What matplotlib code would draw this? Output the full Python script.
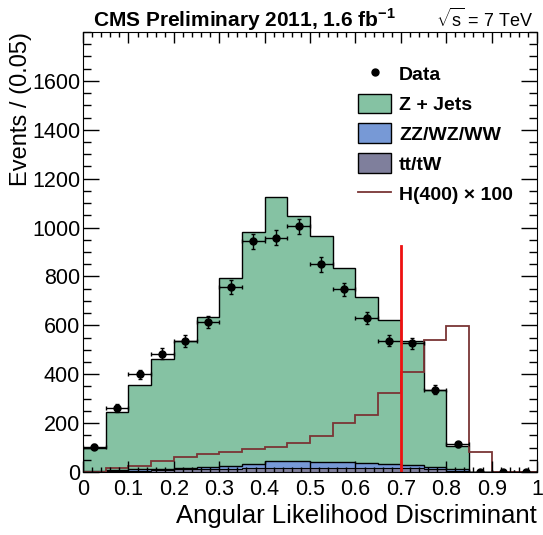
import numpy as np
import matplotlib
matplotlib.use('Agg')
import matplotlib.pyplot as plt
from matplotlib.patches import Patch
from matplotlib.lines import Line2D
from matplotlib.ticker import MultipleLocator

plt.rcParams['font.family'] = ['Liberation Sans', 'DejaVu Sans']
plt.rcParams['mathtext.fontset'] = 'custom'
plt.rcParams['mathtext.rm'] = 'Liberation Sans'
plt.rcParams['mathtext.bf'] = 'Liberation Sans:bold'

edges = np.linspace(0, 1, 21)
centers = 0.5 * (edges[:-1] + edges[1:])

# stacked MC, per-process contributions in each bin
tt_tw = [1, 3, 4, 8, 11, 14, 14, 16, 18, 18, 18, 18, 17, 16, 16, 11, 5, 0, 0, 0]
dibos = [3, 5, 7, 6, 7, 8, 10, 18, 27, 27, 24, 21, 21, 18, 14, 9, 6, 0, 0, 0]
total = [97, 246, 355, 461, 536, 633, 795, 982, 1125, 1049, 967, 834, 714, 620, 536, 336, 107, 0, 0, 0]
data = [103, 260, 399, 484, 536, 615, 756, 943, 958, 1005, 849, 747, 631, 537, 527, 336, 114, 0, 0, 0]
higgs = [1, 15, 24, 46, 61, 73, 82, 94, 102, 117, 147, 200, 234, 322, 409, 539, 597, 83, 0, 0]

c_zj = '#85c2a3'
c_vv = '#7799d6'
c_tt = '#7f7f9c'
c_h = '#7a3535'

fig = plt.figure(figsize=(5.43, 5.35), dpi=100)
ax = fig.add_axes([0.1529, 0.1178, 0.8361, 0.8224])

tt = np.array(tt_tw, float)
vv = tt + np.array(dibos, float)
tot = np.array(total, float)

ax.stairs(tot, edges, baseline=vv, fill=True, facecolor=c_zj, edgecolor='none')
ax.stairs(vv, edges, baseline=tt, fill=True, facecolor=c_vv, edgecolor='none')
ax.stairs(tt, edges, baseline=0, fill=True, facecolor=c_tt, edgecolor='none')
ax.stairs(tot, edges, color='black', lw=1)
ax.stairs(vv, edges, color='black', lw=1)
ax.stairs(tt, edges, color='black', lw=0.8)

ax.stairs(higgs, edges, color=c_h, lw=1.3)

d = np.array(data, float)
ax.errorbar(centers, d, xerr=0.025, yerr=np.sqrt(d), fmt='o', color='black',
            ms=5, elinewidth=1, capsize=1.5)

ax.plot([0.7, 0.7], [0, 925], color='#ee1111', lw=2)

ax.set_xlim(0, 1)
ax.set_ylim(0, 1800)
ax.xaxis.set_minor_locator(MultipleLocator(0.02))
ax.yaxis.set_minor_locator(MultipleLocator(50))
ax.set_xticks(np.arange(0, 1.01, 0.1))
ax.set_xticklabels(['0', '0.1', '0.2', '0.3', '0.4', '0.5', '0.6', '0.7', '0.8', '0.9', '1'])
ax.set_yticks(np.arange(0, 1601, 200))
ax.tick_params(which='both', direction='in', top=True, right=True, labelsize=15.5, width=1)
ax.tick_params(axis='y', which='major', length=11.5, pad=2)
ax.tick_params(axis='y', which='minor', length=5.8)
ax.tick_params(axis='x', which='major', length=8, pad=5)
ax.tick_params(axis='x', which='minor', length=3.6)

ax.set_xlabel('Angular Likelihood Discriminant', fontsize=18.5, loc='right', labelpad=3)
ax.set_ylabel('Events / (0.05)', fontsize=17, loc='top', labelpad=0)

handles = [
    Line2D([], [], marker='o', ls='none', color='black', ms=5),
    Patch(facecolor=c_zj, edgecolor='black'),
    Patch(facecolor=c_vv, edgecolor='black'),
    Patch(facecolor=c_tt, edgecolor='black'),
    Line2D([], [], color=c_h, lw=1.3),
]
labels = ['Data', 'Z + Jets', 'ZZ/WZ/WW', 'tt/tW', 'H(400) \u00d7 100']
ax.legend(handles, labels, loc='upper left', bbox_to_anchor=(0.568, 0.968),
          frameon=False, prop={'weight': 'bold', 'size': 14},
          handlelength=1.7, handleheight=1.15, labelspacing=0.5, handletextpad=0.4)

fig.text(0.171, 0.9636, 'CMS Preliminary 2011, 1.6 fb$^{\\mathbf{-1}}$',
         fontsize=15, fontweight='bold', va='center', ha='left')
fig.text(0.982, 0.9636, '$\\sqrt{\\mathrm{s}}$ = 7 TeV', fontsize=13, va='center', ha='right')

fig.savefig('out.png', dpi=100)
